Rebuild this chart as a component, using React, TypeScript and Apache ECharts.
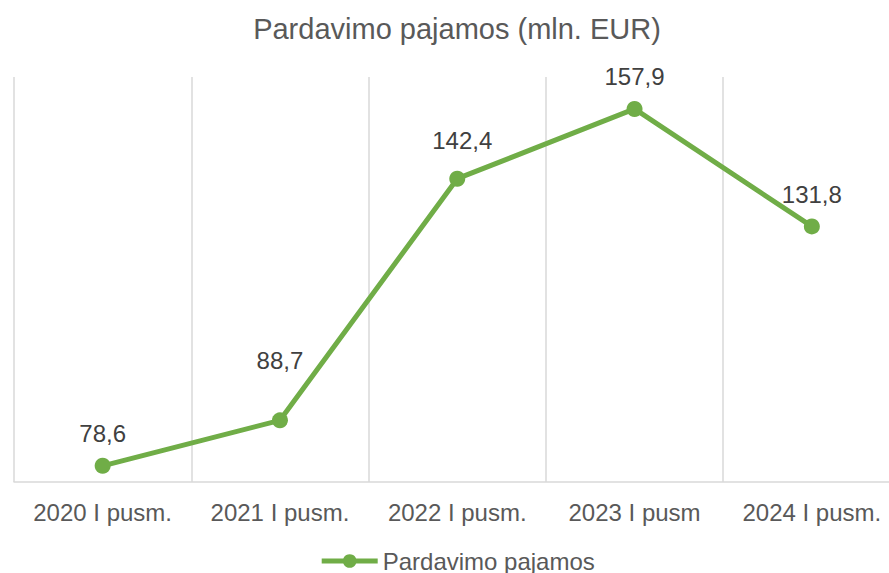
import React, { useEffect, useRef } from "react";
import * as echarts from "echarts";

const categories = ["2020 I pusm.", "2021 I pusm.", "2022 I pusm.", "2023 I pusm", "2024 I pusm."];
const values = [78.6, 88.7, 142.4, 157.9, 131.8];
const seriesName = "Pardavimo pajamos";
const titleText = "Pardavimo pajamos (mln. EUR)";

const GREEN = "#70AD47";
const TEXT = "#595959";
const GRID = "#D9D9D9";
const FONT = "'Liberation Sans', Arial, sans-serif";

export default function App() {
  const ref = useRef<HTMLDivElement>(null);
  useEffect(() => {
    if (!ref.current) return;
    const chart = echarts.init(ref.current, undefined, { renderer: "svg" });
    const labelOffsets: Record<number, number[]> = { 1: [0, -28], 2: [5, -6] };
    chart.setOption({
      animation: false,
      backgroundColor: "#ffffff",
      textStyle: { fontFamily: FONT },
      title: {
        text: titleText,
        left: "center",
        top: 9,
        textStyle: { fontFamily: FONT, fontSize: 29, fontWeight: "normal", color: TEXT },
      },
      legend: {
        top: 544,
        left: "center",
        itemWidth: 56,
        itemHeight: 17,
        itemGap: 10,
        lineStyle: { width: 5, color: GREEN },
        itemStyle: { color: GREEN },
        textStyle: { fontFamily: FONT, fontSize: 24, color: TEXT },
        data: [seriesName],
      },
      grid: { left: 14, right: 13.5, top: 77, bottom: 91, containLabel: false },
      xAxis: {
        type: "category",
        data: categories,
        boundaryGap: true,
        axisLine: { show: true, lineStyle: { color: GRID, width: 1.5 } },
        axisTick: { show: false },
        axisLabel: { fontFamily: FONT, fontSize: 24, color: TEXT, margin: 18, interval: 0 },
        splitLine: { show: true, lineStyle: { color: GRID, width: 1.5 } },
      },
      yAxis: {
        type: "value",
        min: 75,
        max: 165,
        show: false,
        splitLine: { show: false },
      },
      series: [
        {
          name: seriesName,
          type: "line",
          data: values.map((v, i) => ({
            value: v,
            label: labelOffsets[i] ? { offset: labelOffsets[i] } : undefined,
          })),
          symbol: "circle",
          symbolSize: 16,
          lineStyle: { color: GREEN, width: 5 },
          itemStyle: { color: GREEN },
          label: {
            show: true,
            position: "top",
            distance: 12,
            fontFamily: FONT,
            fontSize: 24,
            color: "#404040",
            formatter: (p: any) => String(p.value).replace(".", ","),
          },
        },
      ],
    });
    return () => chart.dispose();
  }, []);
  return <div ref={ref} style={{ position: "fixed", left: 0, top: 0, width: 914, height: 573 }} />;
}
